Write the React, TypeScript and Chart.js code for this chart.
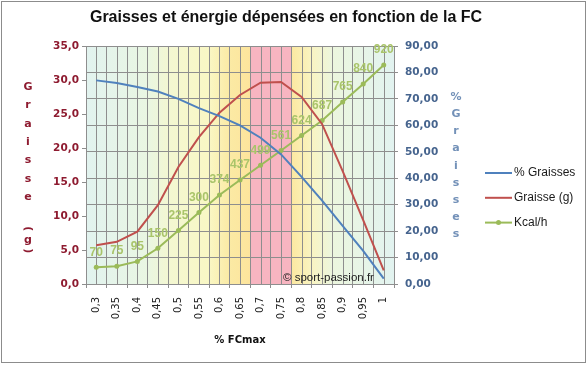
import React, { useEffect, useRef } from 'react';
import { Chart, registerables } from 'chart.js';

Chart.register(...registerables);

// ---------- data ----------
const xLabels = ['0,3', '0,35', '0,4', '0,45', '0,5', '0,55', '0,6', '0,65', '0,7', '0,75', '0,8', '0,85', '0,9', '0,95', '1'];
const pctGraisses = [77, 76, 74.5, 72.8, 70, 66.5, 63.5, 60, 55.3, 49, 40.5, 31.5, 22, 12.5, 2];
const graisseG = [5.7, 6.2, 7.7, 11.6, 17.2, 21.6, 25.2, 27.8, 29.6, 29.7, 27.5, 23.5, 16.6, 9.4, 2.0];
const kcalH = [70, 75, 95, 150, 225, 300, 374, 437, 499, 561, 624, 687, 765, 840, 920];
const seriesNames = ['% Graisses', 'Graisse (g)', 'Kcal/h'];

const titleText = 'Graisses et énergie dépensées en fonction de la FC';
const xTitle = '% FCmax';
const leftTitle = 'Graisse (g)';
const rightTitle = '% Graisses';
const credit = '© sport-passion.fr';

// ---------- styles ----------
const seriesColors = ['#4f81bd', '#c0504d', '#9bbb59'];
const labelGreen = '#a9c46a';
const gridColor = '#8e8e8e';
const leftColor = '#8e1b30';
const rightColor = '#46648e';
const rightTitleColor = '#7391b8';
// background zones, positions in category units (0..15)
const bandStops: [number, string][] = [
  [0, '#e2f3ef'],
  [3, '#e9f6e2'],
  [4, '#f3f7d2'],
  [6, '#f9f7c4'],
  [7, '#fbeaa4'],
  [7.99, '#fde49c'],
  [8, '#f8b5c1'],
  [9.99, '#f8b5c1'],
  [10, '#fce8a0'],
  [11, '#f9f4c2'],
  [12, '#ecf6de'],
  [15, '#e2f3f0'],
];

const decor = {
  id: 'decor',
  beforeDraw(chart: any) {
    const { ctx, chartArea: ca } = chart;
    ctx.save();
    ctx.fillStyle = '#ffffff';
    ctx.fillRect(0, 0, chart.width, chart.height);
    ctx.strokeStyle = '#8c8c8c';
    ctx.lineWidth = 1;
    ctx.strokeRect(1.5, 1.5, chart.width - 3, chart.height - 4);
    const n = xLabels.length;
    const g = ctx.createLinearGradient(ca.left, 0, ca.right, 0);
    bandStops.forEach(([p, c]) => g.addColorStop(p / n, c));
    ctx.fillStyle = g;
    ctx.fillRect(ca.left, ca.top, ca.right - ca.left, ca.bottom - ca.top);
    ctx.restore();
  },
  beforeDatasetsDraw(chart: any) {
    const { ctx, chartArea: ca, scales } = chart;
    ctx.save();
    ctx.strokeStyle = gridColor;
    ctx.lineWidth = 1;
    xLabels.forEach((_, i) => {
      const px = Math.round(scales.x.getPixelForValue(i)) + 0.5;
      ctx.beginPath();
      ctx.moveTo(px, ca.top);
      ctx.lineTo(px, ca.bottom);
      ctx.stroke();
    });
    ctx.restore();
  },
  afterDatasetsDraw(chart: any) {
    const { ctx } = chart;
    const meta = chart.getDatasetMeta(2);
    ctx.save();
    ctx.fillStyle = labelGreen;
    ctx.font = 'bold 12px "Liberation Sans", Arial, sans-serif';
    ctx.textAlign = 'center';
    ctx.textBaseline = 'middle';
    meta.data.forEach((pt: any, i: number) => {
      ctx.fillText(String(kcalH[i]), pt.x, pt.y - 15);
    });
    ctx.restore();
  },
  afterDraw(chart: any) {
    const { ctx, chartArea: ca } = chart;
    ctx.save();
    // title
    ctx.fillStyle = '#111';
    ctx.font = 'bold 16px "Liberation Sans", Arial, sans-serif';
    ctx.textAlign = 'center';
    ctx.textBaseline = 'middle';
    ctx.fillText(titleText, 286, 18);

    // left vertical title
    ctx.fillStyle = leftColor;
    ctx.font = 'bold 11px "DejaVu Sans", sans-serif';
    const lchars = leftTitle.split('');
    let y = 87;
    lchars.forEach((ch) => {
      if (ch === ' ') { y += 13; return; }
      if (ch === '(' || ch === ')') {
        ctx.save();
        ctx.translate(28, y);
        ctx.rotate(Math.PI / 2);
        ctx.fillText(ch, 0, 0);
        ctx.restore();
        y += 11;
        return;
      }
      ctx.fillText(ch, 28, y);
      y += ch === 'g' ? 11 : 18.4;
    });

    // right vertical title
    ctx.fillStyle = rightTitleColor;
    rightTitle.split('').forEach((ch, i) => {
      if (ch === ' ') return;
      const idx = i > 1 ? i - 1 : i;
      ctx.fillText(ch, 456, 97 + idx * 17.2);
    });

    // legend
    ctx.font = '12px "Liberation Sans", Arial, sans-serif';
    ctx.textAlign = 'left';
    seriesNames.forEach((name, i) => {
      const ly = 173 + i * 24.8;
      ctx.strokeStyle = seriesColors[i];
      ctx.lineWidth = 2;
      ctx.beginPath();
      ctx.moveTo(485, ly);
      ctx.lineTo(512, ly);
      ctx.stroke();
      if (i === 2) {
        ctx.fillStyle = seriesColors[i];
        ctx.beginPath();
        ctx.arc(498.5, ly, 2.5, 0, Math.PI * 2);
        ctx.fill();
      }
      ctx.fillStyle = '#1a1a1a';
      ctx.fillText(name, 514, ly);
    });

    // credit
    ctx.fillStyle = '#222';
    ctx.font = '11.5px "Liberation Sans", Arial, sans-serif';
    ctx.textAlign = 'left';
    ctx.fillText(credit, 283, ca.bottom - 6);
    ctx.restore();
  },
};

export default function App() {
  const ref = useRef<HTMLCanvasElement>(null);
  useEffect(() => {
    document.body.style.margin = '0';
    const canvas = ref.current;
    if (!canvas) return;
    const chart = new Chart(canvas, {
      type: 'line',
      data: {
        labels: xLabels,
        datasets: [
          {
            label: seriesNames[0],
            data: pctGraisses,
            yAxisID: 'y1',
            borderColor: seriesColors[0],
            backgroundColor: seriesColors[0],
            borderWidth: 2,
            pointRadius: 0,
            tension: 0,
          },
          {
            label: seriesNames[1],
            data: graisseG,
            yAxisID: 'y',
            borderColor: seriesColors[1],
            backgroundColor: seriesColors[1],
            borderWidth: 2,
            pointRadius: 0,
            tension: 0,
          },
          {
            label: seriesNames[2],
            data: kcalH,
            yAxisID: 'yK',
            borderColor: seriesColors[2],
            backgroundColor: seriesColors[2],
            borderWidth: 2,
            pointRadius: 2.5,
            pointBorderWidth: 0,
            tension: 0,
          },
        ],
      },
      options: {
        animation: false,
        responsive: false,
        devicePixelRatio: 1,
        layout: { padding: { top: 46, left: 0, right: 0, bottom: 0 } },
        plugins: {
          legend: { display: false },
          title: { display: false },
          tooltip: { enabled: false },
        },
        scales: {
          x: {
            type: 'category',
            offset: true,
            grid: { offset: true, color: gridColor, tickLength: 4, drawTicks: true },
            border: { color: gridColor },
            ticks: {
              minRotation: 90,
              maxRotation: 90,
              autoSkip: false,
              padding: 9,
              color: '#222',
              font: { family: '"DejaVu Sans", sans-serif', size: 10 },
            },
            title: {
              display: true,
              text: xTitle,
              color: '#111',
              font: { family: '"DejaVu Sans", sans-serif', size: 10, weight: 'bold' },
              padding: { top: 4, bottom: 19 },
            },
            afterFit: (s: any) => { s.height = 81; },
          },
          y: {
            position: 'left',
            min: 0,
            max: 35,
            ticks: {
              stepSize: 5,
              color: leftColor,
              padding: 3,
              font: { family: '"DejaVu Sans", sans-serif', size: 10.5, weight: 'bold' },
              callback: (v: any) => Number(v).toFixed(1).replace('.', ','),
            },
            grid: { drawOnChartArea: false, color: gridColor, tickLength: 4 },
            border: { color: gridColor },
            afterFit: (s: any) => { s.width = 86; },
          },
          y1: {
            position: 'right',
            min: 0,
            max: 90,
            ticks: {
              stepSize: 10,
              color: rightColor,
              padding: 7,
              font: { family: '"DejaVu Sans", sans-serif', size: 10.5, weight: 'bold' },
              callback: (v: any) => Number(v).toFixed(2).replace('.', ','),
            },
            grid: { color: gridColor, tickLength: 4 },
            border: { color: gridColor },
            afterFit: (s: any) => { s.width = 193; },
          },
          yK: {
            display: false,
            position: 'left',
            min: 0,
            max: 1000,
          },
        },
      },
      plugins: [decor],
    } as any);
    return () => chart.destroy();
  }, []);
  return <canvas ref={ref} width={587} height={365} style={{ display: 'block' }} />;
}
